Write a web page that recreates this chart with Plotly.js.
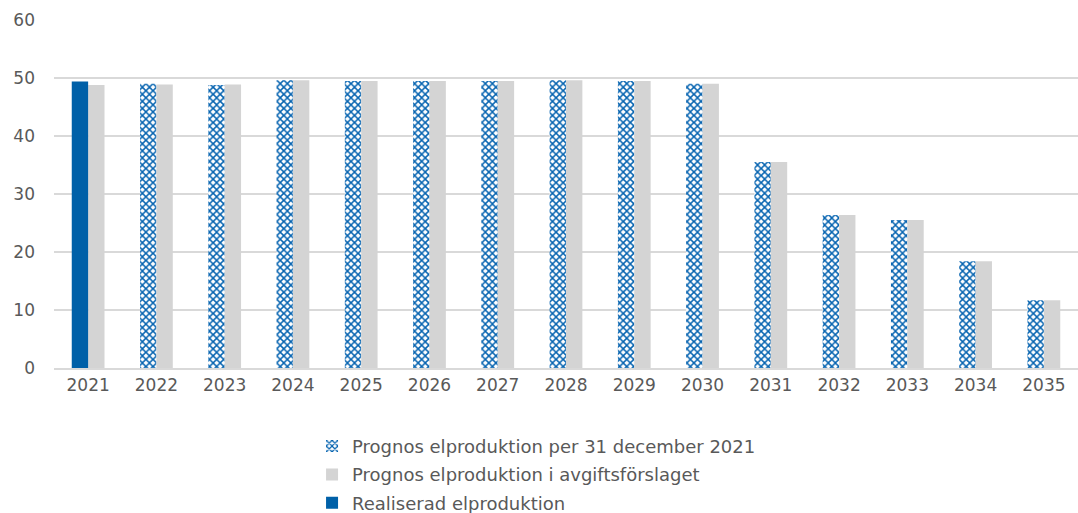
<!DOCTYPE html>
<html><head><meta charset="utf-8">
<script src="https://cdn.plot.ly/plotly-3.0.1.min.js"></script>
<style>html,body{margin:0;padding:0;background:#fff}#c{width:1078px;height:513px}</style>
</head><body><div id="c"></div>
<script>
const years = ['2021','2022','2023','2024','2025','2026','2027','2028','2029','2030','2031','2032','2033','2034','2035'];
const realised = [49.4,null,null,null,null,null,null,null,null,null,null,null,null,null,null];
const forecastDec2021 = [null,49.0,48.8,49.6,49.5,49.5,49.5,49.6,49.5,49.0,35.5,26.4,25.5,18.4,11.7];
const forecastProposal = [48.8,48.9,48.9,49.6,49.5,49.5,49.5,49.6,49.5,49.0,35.5,26.4,25.5,18.4,11.7];
const yTicks = [0,10,20,30,40,50,60];

const font = {family:'DejaVu Sans, Arial, sans-serif', color:'#595959', size:17};
const traces = [
  {type:'bar', name:'Prognos elproduktion per 31 december 2021', x:years, y:forecastDec2021, legendgroup:'g1',
   offsetgroup:'a', marker:{color:'#ffffff', line:{width:0}, pattern:{shape:'x', fgcolor:'#0563b0', bgcolor:'#ffffff', size:5, solidity:0.5}}},
  {type:'bar', name:'Prognos elproduktion i avgiftsförslaget', x:years, y:forecastProposal, legendgroup:'g2',
   offsetgroup:'b', marker:{color:'#d4d4d4', line:{width:0}}},
  {type:'bar', name:'Realiserad elproduktion', x:years, y:realised, legendgroup:'g3',
   offsetgroup:'a', marker:{color:'#0060a8', line:{width:0}}}
];
const layout = {
  width:1078, height:513,
  margin:{l:54, r:0, t:20, b:145, autoexpand:false},
  paper_bgcolor:'#fff', plot_bgcolor:'#fff',
  font:font,
  barmode:'group', bargap:0.52, bargroupgap:0,
  showlegend:true,
  legend:{orientation:'v', x:0.252, xanchor:'left', y:-0.172, yanchor:'top',
          font:{family:font.family, color:'#595959', size:18}, tracegroupgap:2, itemwidth:30, traceorder:'grouped'},
  xaxis:{type:'category', tickvals:years, ticktext:years, showgrid:false, zeroline:false,
         showline:true, linecolor:'#d9d9d9', linewidth:2, ticks:'', ticklabelstandoff:1, tickfont:{size:17}},
  yaxis:{range:[0,60], tickvals:yTicks, ticktext:yTicks.map(String), showgrid:true, gridcolor:'#d9d9d9', gridwidth:2,
         zeroline:false, showline:false, ticks:'', ticklabelstandoff:18, tickfont:{size:17}}
};
Plotly.newPlot('c', traces, layout, {staticPlot:true, displayModeBar:false});
</script></body></html>
